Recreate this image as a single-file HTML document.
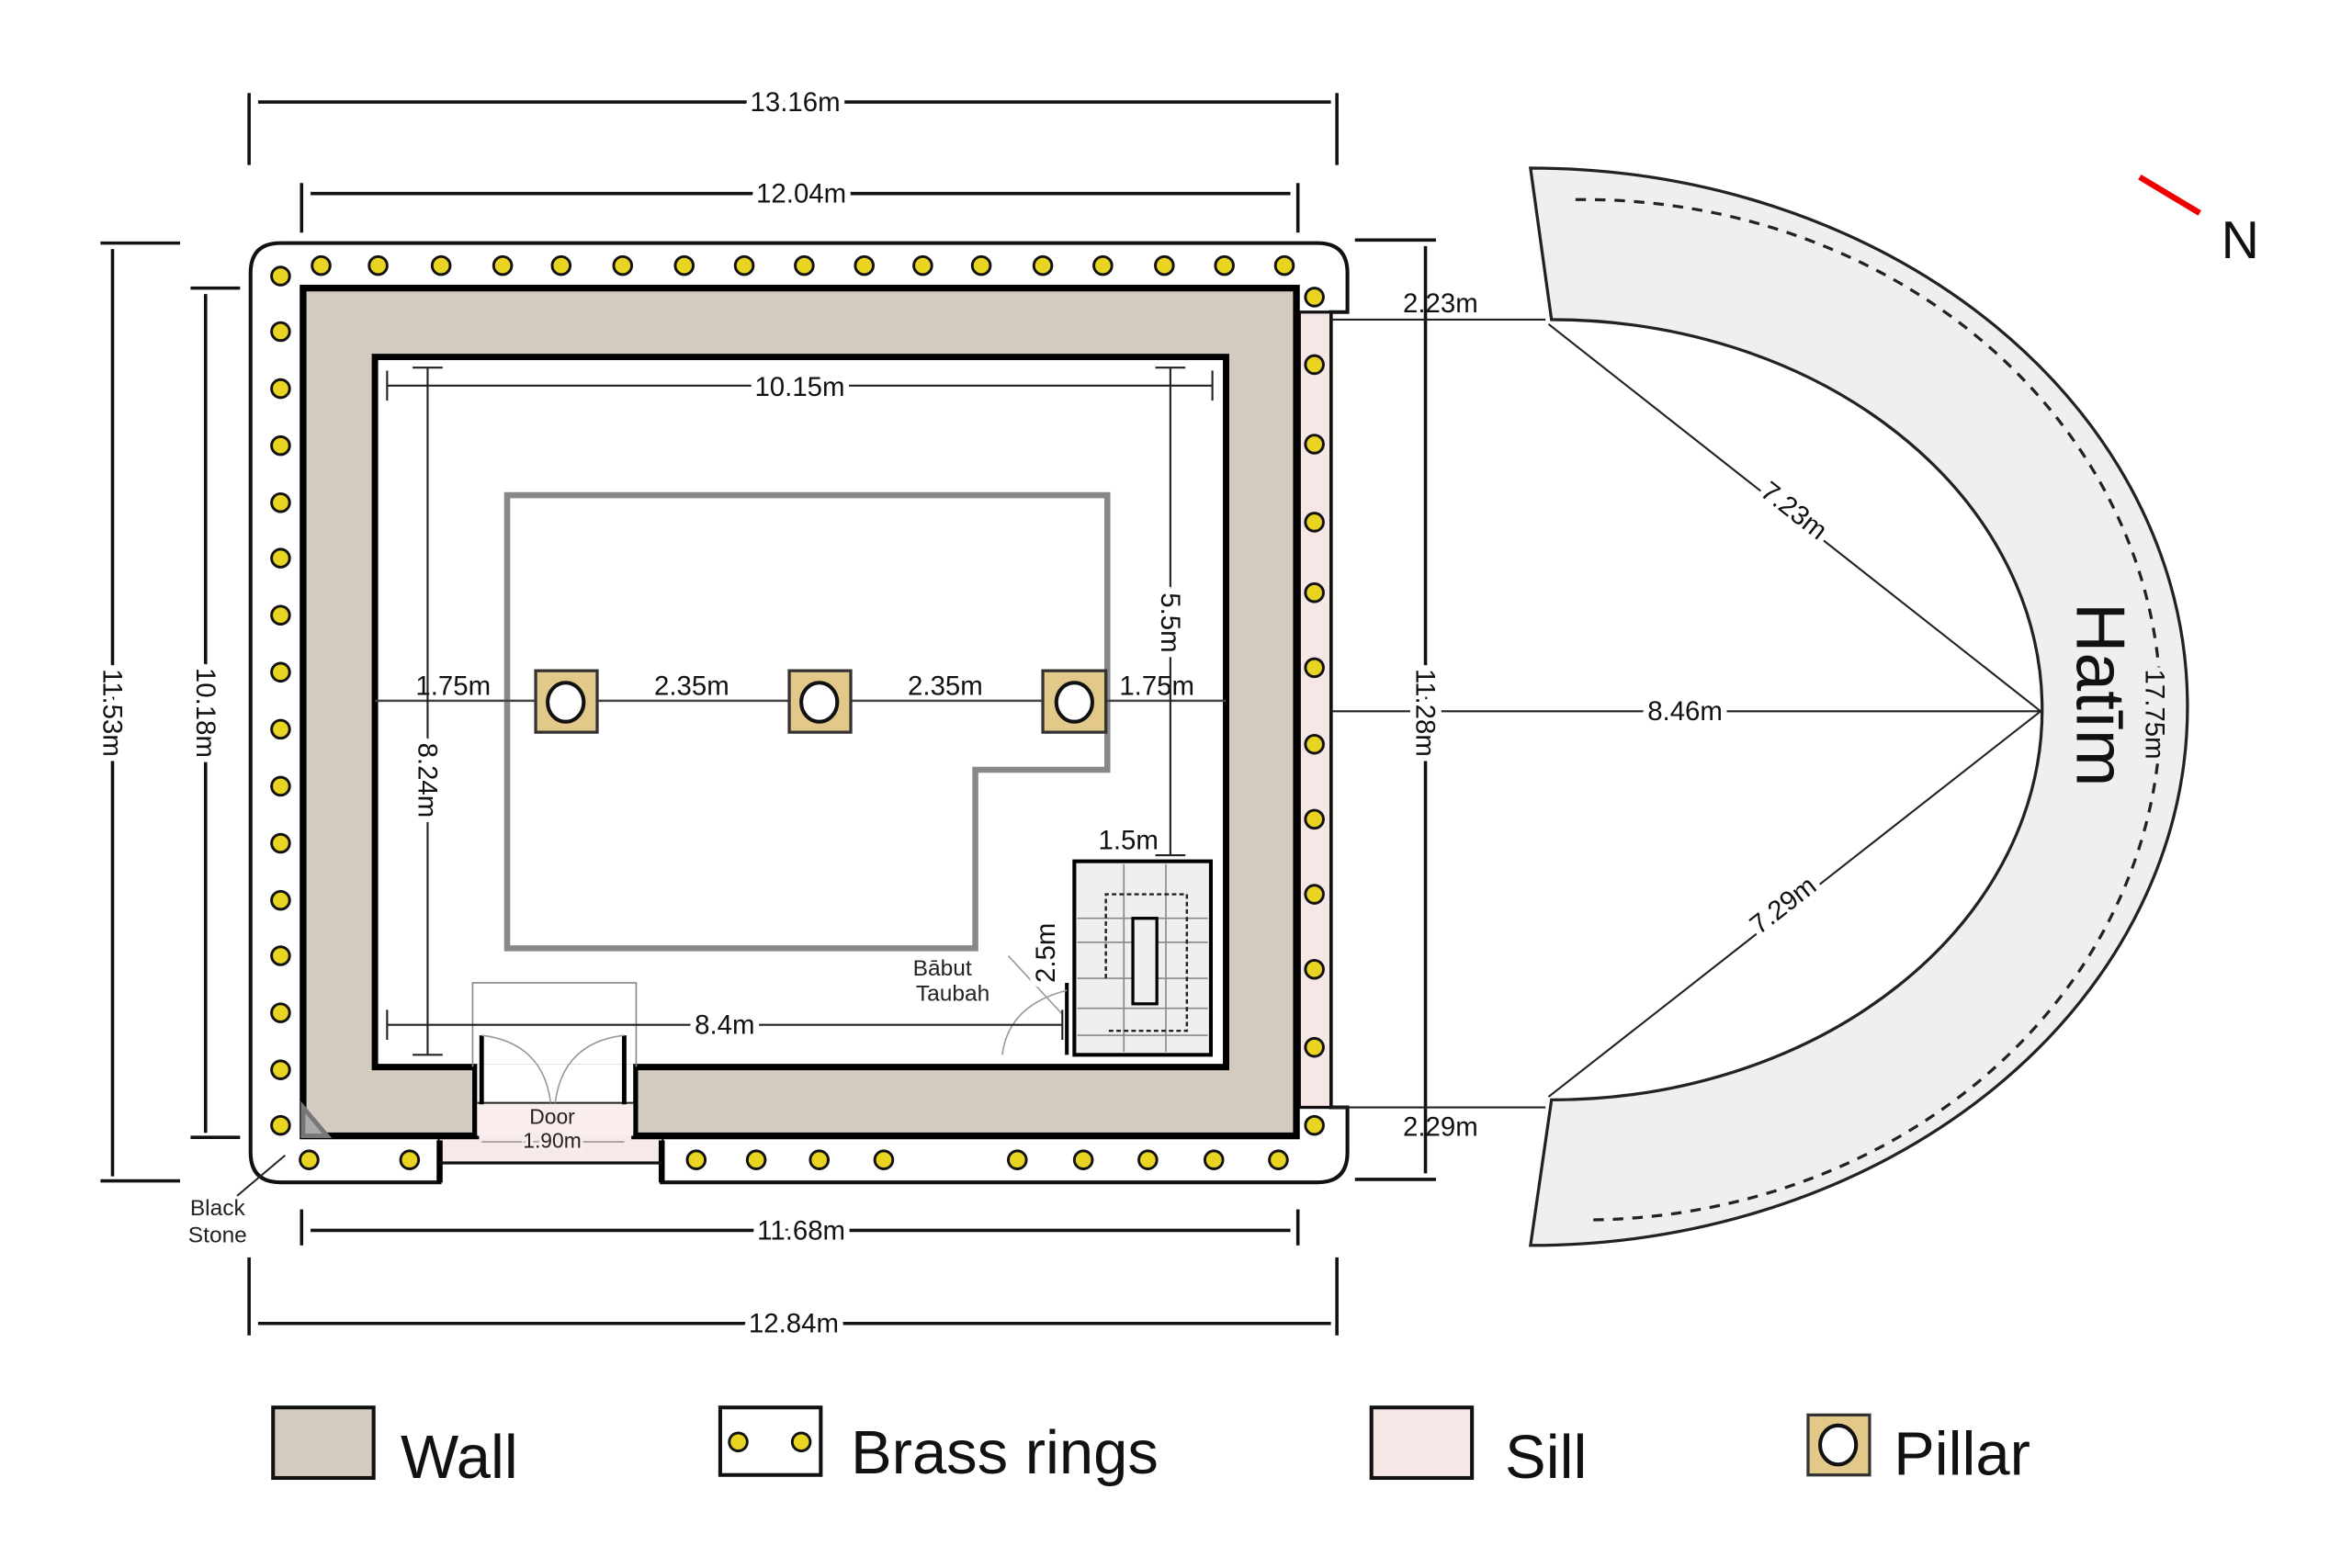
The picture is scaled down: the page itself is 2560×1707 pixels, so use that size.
<!DOCTYPE html>
<html><head><meta charset="utf-8"><style>html,body{margin:0;padding:0;background:#fff}svg{display:block}</style></head><body>
<svg width="2560" height="1707" viewBox="0 0 1567.5 1045" preserveAspectRatio="none" xmlns="http://www.w3.org/2000/svg" font-family="Liberation Sans, sans-serif">
<rect width="1568" height="1045" fill="#fff"/>
<path d="M187,162 H878 Q898,162 898,182 V208 H887 V738 H898 V768 Q898,788 878,788 H441 V760 H293 V788 H187 Q167,788 167,768 V182 Q167,162 187,162 Z" fill="#fff" stroke="#111" stroke-width="2.5"/>
<rect x="293" y="735" width="148" height="40" fill="#f7e9e9"/>
<line x1="293" y1="760" x2="293" y2="788" stroke="#000" stroke-width="4"/>
<line x1="441" y1="760" x2="441" y2="788" stroke="#000" stroke-width="4"/>
<line x1="293" y1="775" x2="441" y2="775" stroke="#111" stroke-width="2"/>
<rect x="866" y="208" width="21" height="530" fill="#f7e6e6" stroke="#111" stroke-width="2"/>
<path d="M202,192 H864 V757 H423 V711 H817 V238 H250 V711 H317 V757 H202 Z" fill="#d4cbc0" stroke="#000" stroke-width="4.5" fill-rule="evenodd"/>
<rect x="250" y="238" width="567" height="473" fill="#fff" stroke="#000" stroke-width="4"/>
<rect x="318" y="709" width="104" height="46" fill="#fff"/>
<rect x="318" y="735" width="104" height="22" fill="#f9eded"/>
<line x1="318" y1="735" x2="422" y2="735" stroke="#222" stroke-width="1.2"/>
<path d="M315,711 V655 H424 V711" fill="none" stroke="#888" stroke-width="1"/>
<line x1="321" y1="690" x2="321" y2="736" stroke="#000" stroke-width="3"/>
<line x1="416" y1="690" x2="416" y2="736" stroke="#000" stroke-width="3"/>
<path d="M321,690 Q362,695 367,735 M416,690 Q375,695 370,735" fill="none" stroke="#999" stroke-width="1"/>
<text x="368" y="749" font-size="14" text-anchor="middle" fill="#222">Door</text>
<line x1="321" y1="761" x2="416" y2="761" stroke="#444" stroke-width="1" opacity="0.5"/>
<text x="368" y="765" font-size="14" text-anchor="middle" fill="#222" paint-order="stroke" stroke="#f9eded" stroke-width="4">1.90m</text>
<path d="M202,738 L218,757 L202,757 Z" fill="#aaa" stroke="#777" stroke-width="3"/>
<line x1="190" y1="770" x2="158" y2="797" stroke="#222" stroke-width="1.2"/>
<text x="145" y="810" font-size="15" text-anchor="middle" fill="#222">Black</text>
<text x="145" y="828" font-size="15" text-anchor="middle" fill="#222">Stone</text>
<path d="M338,330 H738 V513 H650 V632 H338 Z" fill="none" stroke="#888" stroke-width="4"/>
<line x1="250" y1="467" x2="817" y2="467" stroke="#444" stroke-width="1.5"/>
<g fill="#e2c98a" stroke="#333" stroke-width="2">
<rect x="357" y="447" width="41" height="41"/><rect x="526" y="447" width="41" height="41"/><rect x="695" y="447" width="42" height="41"/>
</g>
<g fill="#fff" stroke="#111" stroke-width="2.5">
<ellipse cx="377" cy="468" rx="12" ry="13"/><ellipse cx="546" cy="468" rx="12" ry="13"/><ellipse cx="716" cy="468" rx="12" ry="13"/>
</g>
<g font-size="18" fill="#111" text-anchor="middle">
<text x="302" y="463">1.75m</text><text x="461" y="463">2.35m</text><text x="630" y="463">2.35m</text><text x="771" y="463">1.75m</text>
</g>
<rect x="716" y="574" width="91" height="129" fill="#efefef" stroke="#000" stroke-width="2.5"/>
<g stroke="#888" stroke-width="1"><line x1="749" y1="576" x2="749" y2="701"/><line x1="777" y1="576" x2="777" y2="701"/>
<line x1="718" y1="628" x2="805" y2="628"/><line x1="718" y1="652" x2="805" y2="652"/><line x1="718" y1="672" x2="805" y2="672"/><line x1="718" y1="690" x2="805" y2="690"/><line x1="718" y1="612" x2="805" y2="612"/></g>
<path d="M737,652 V596 H791 V687 H738" fill="none" stroke="#222" stroke-width="1.5" stroke-dasharray="3,2"/>
<rect x="755" y="612" width="16" height="57" fill="#efefef" stroke="#000" stroke-width="2"/>
<line x1="711" y1="655" x2="711" y2="703" stroke="#000" stroke-width="2.5"/>
<path d="M668,703 Q672,670 711,660 M672,637 L708,676" fill="none" stroke="#999" stroke-width="1"/>
<text x="628" y="650" font-size="15" text-anchor="middle" fill="#222">Bābut</text>
<text x="635" y="667" font-size="15" text-anchor="middle" fill="#222">Taubah</text>
<g stroke="#222" stroke-width="1.3">
<line x1="258" y1="257" x2="808" y2="257"/><line x1="258" y1="247" x2="258" y2="267"/><line x1="808" y1="247" x2="808" y2="267"/>
<line x1="285" y1="245" x2="285" y2="703"/><line x1="275" y1="245" x2="295" y2="245"/><line x1="275" y1="703" x2="295" y2="703"/>
<line x1="780" y1="245" x2="780" y2="570"/><line x1="770" y1="245" x2="790" y2="245"/><line x1="770" y1="570" x2="790" y2="570"/>
<line x1="258" y1="683" x2="708" y2="683"/><line x1="258" y1="673" x2="258" y2="693"/><line x1="708" y1="673" x2="708" y2="693"/>
</g>
<g font-size="18" fill="#111" text-anchor="middle" paint-order="stroke" stroke="#fff" stroke-width="8">
<text x="533" y="264">10.15m</text>
<text x="483" y="689">8.4m</text>
<text transform="translate(279,520) rotate(90)">8.24m</text>
<text transform="translate(774,415) rotate(90)">5.5m</text>
<text transform="translate(703,635) rotate(-90)">2.5m</text>
</g>
<text x="752" y="566" font-size="18" fill="#111" text-anchor="middle">1.5m</text>
<g fill="#e9d422" stroke="#111" stroke-width="1.8">
<circle cx="187" cy="184" r="6"/>
<circle cx="214" cy="177" r="6"/><circle cx="252" cy="177" r="6"/><circle cx="294" cy="177" r="6"/><circle cx="335" cy="177" r="6"/><circle cx="374" cy="177" r="6"/><circle cx="415" cy="177" r="6"/><circle cx="456" cy="177" r="6"/><circle cx="496" cy="177" r="6"/><circle cx="536" cy="177" r="6"/><circle cx="576" cy="177" r="6"/><circle cx="615" cy="177" r="6"/><circle cx="654" cy="177" r="6"/><circle cx="695" cy="177" r="6"/><circle cx="735" cy="177" r="6"/><circle cx="776" cy="177" r="6"/><circle cx="816" cy="177" r="6"/><circle cx="856" cy="177" r="6"/>
<circle cx="187" cy="221" r="6"/><circle cx="187" cy="259" r="6"/><circle cx="187" cy="297" r="6"/><circle cx="187" cy="335" r="6"/><circle cx="187" cy="372" r="6"/><circle cx="187" cy="410" r="6"/><circle cx="187" cy="448" r="6"/><circle cx="187" cy="486" r="6"/><circle cx="187" cy="524" r="6"/><circle cx="187" cy="562" r="6"/><circle cx="187" cy="600" r="6"/><circle cx="187" cy="637" r="6"/><circle cx="187" cy="675" r="6"/><circle cx="187" cy="713" r="6"/><circle cx="187" cy="750" r="6"/>
<circle cx="206" cy="773" r="6"/><circle cx="273" cy="773" r="6"/><circle cx="464" cy="773" r="6"/><circle cx="504" cy="773" r="6"/><circle cx="546" cy="773" r="6"/><circle cx="589" cy="773" r="6"/><circle cx="678" cy="773" r="6"/><circle cx="722" cy="773" r="6"/><circle cx="765" cy="773" r="6"/><circle cx="809" cy="773" r="6"/><circle cx="852" cy="773" r="6"/>
<circle cx="876" cy="198" r="6"/><circle cx="876" cy="243" r="6"/><circle cx="876" cy="296" r="6"/><circle cx="876" cy="348" r="6"/><circle cx="876" cy="395" r="6"/><circle cx="876" cy="445" r="6"/><circle cx="876" cy="496" r="6"/><circle cx="876" cy="546" r="6"/><circle cx="876" cy="596" r="6"/><circle cx="876" cy="646" r="6"/><circle cx="876" cy="698" r="6"/><circle cx="876" cy="750" r="6"/>
</g>
<g stroke="#111" stroke-width="2.2">
<line x1="172" y1="68" x2="887" y2="68"/><line x1="166" y1="62" x2="166" y2="110"/><line x1="891" y1="62" x2="891" y2="110"/>
<line x1="207" y1="129" x2="860" y2="129"/><line x1="201" y1="122" x2="201" y2="155"/><line x1="865" y1="122" x2="865" y2="155"/>
<line x1="75" y1="166" x2="75" y2="784"/><line x1="67" y1="162" x2="120" y2="162"/><line x1="67" y1="787" x2="120" y2="787"/>
<line x1="137" y1="196" x2="137" y2="755"/><line x1="127" y1="192" x2="160" y2="192"/><line x1="127" y1="758" x2="160" y2="758"/>
<line x1="207" y1="820" x2="860" y2="820"/><line x1="201" y1="806" x2="201" y2="830"/><line x1="865" y1="806" x2="865" y2="830"/>
<line x1="172" y1="882" x2="887" y2="882"/><line x1="166" y1="838" x2="166" y2="890"/><line x1="891" y1="838" x2="891" y2="890"/>
<line x1="950" y1="164" x2="950" y2="782"/><line x1="903" y1="160" x2="957" y2="160"/><line x1="903" y1="786" x2="957" y2="786"/>
</g>
<g stroke="#222" stroke-width="1.3">
<line x1="887" y1="213" x2="1030" y2="213"/><line x1="887" y1="738" x2="1030" y2="738"/>
<line x1="887" y1="474" x2="1360" y2="474"/>
</g>
<path d="M1020,112 A438,359 0 0 1 1020,830 L1034,733 A327,260 0 0 0 1034,213 Z" fill="#efefef" stroke="#222" stroke-width="2"/>
<path d="M1050,133 A385,340 0 0 1 1060,813" fill="none" stroke="#222" stroke-width="2" stroke-dasharray="7,6"/>
<g stroke="#222" stroke-width="1.3"><line x1="1032" y1="216" x2="1360" y2="474"/><line x1="1032" y1="731" x2="1360" y2="474"/></g>
<g font-size="18" fill="#111" text-anchor="middle" paint-order="stroke" stroke="#fff" stroke-width="8">
<text x="530" y="74">13.16m</text>
<text x="534" y="135">12.04m</text>
<text x="534" y="826">11.68m</text>
<text x="529" y="888">12.84m</text>
<text transform="translate(69,475) rotate(90)">11.53m</text>
<text transform="translate(131,475) rotate(90)">10.18m</text>
<text transform="translate(944,475) rotate(90)">11.28m</text>
<text x="1123" y="480">8.46m</text>
<text transform="translate(1192,345) rotate(38)">7.23m</text>
<text transform="translate(1192,608) rotate(-38)">7.29m</text>
</g>
<g font-size="18" fill="#111" text-anchor="middle" paint-order="stroke" stroke="#efefef" stroke-width="6">
<text transform="translate(1430,476) rotate(90)">17.75m</text>
</g>
<text x="960" y="208" font-size="18" fill="#111" text-anchor="middle">2.23m</text>
<text x="960" y="757" font-size="18" fill="#111" text-anchor="middle">2.29m</text>
<text transform="translate(1384,463) rotate(90)" font-size="46" fill="#111" text-anchor="middle">Hatīm</text>
<line x1="1426" y1="118" x2="1466" y2="142" stroke="#e00" stroke-width="4"/>
<text x="1493" y="172" font-size="35" fill="#111" text-anchor="middle">N</text>
<rect x="182" y="938" width="67" height="47" fill="#d4cbc0" stroke="#111" stroke-width="2.5"/>
<text x="267" y="985" font-size="41" fill="#111">Wall</text>
<rect x="480" y="938" width="67" height="45" fill="#fff" stroke="#111" stroke-width="2.5"/>
<circle cx="492" cy="961" r="6" fill="#e9d422" stroke="#111" stroke-width="1.8"/>
<circle cx="534" cy="961" r="6" fill="#e9d422" stroke="#111" stroke-width="1.8"/>
<text x="567" y="982" font-size="41" fill="#111">Brass rings</text>
<rect x="914" y="938" width="67" height="47" fill="#f7e6e6" stroke="#111" stroke-width="2.5"/>
<text x="1003" y="985" font-size="41" fill="#111">Sill</text>
<rect x="1205" y="943" width="41" height="40" fill="#e2c98a" stroke="#333" stroke-width="2"/>
<ellipse cx="1225" cy="963" rx="12" ry="13" fill="#fff" stroke="#111" stroke-width="2.5"/>
<text x="1262" y="983" font-size="41" fill="#111">Pillar</text>
</svg>
</body></html>
